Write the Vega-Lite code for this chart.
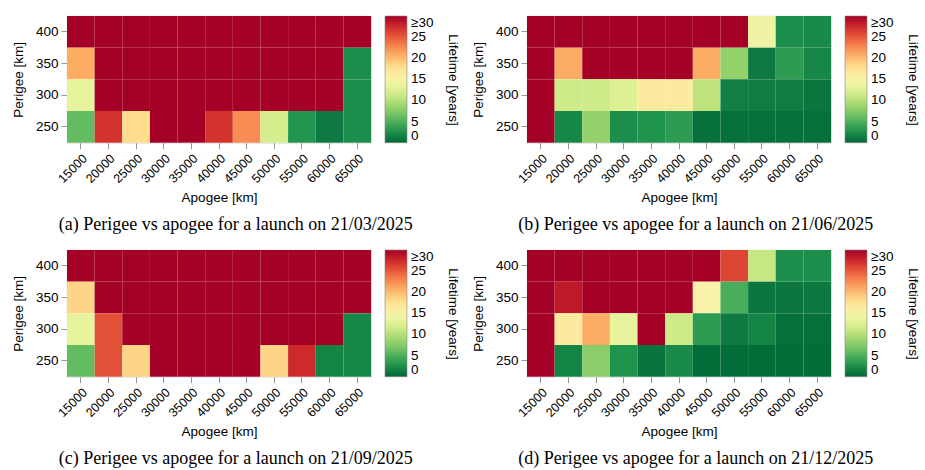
{
  "$schema": "https://vega.github.io/schema/vega-lite/v6.json",
  "padding": {"left": 11, "top": 15, "right": 0, "bottom": 0},
  "background": "white",
  "config": {
    "font": "Liberation Sans",
    "view": {"stroke": "#c8c8c8", "strokeWidth": 0.8},
    "axis": {
      "labelFont": "Liberation Sans", "titleFont": "Liberation Sans",
      "labelFontSize": 13.5, "titleFontSize": 13.5, "labelColor": "#000", "titleColor": "#000",
      "titleFontWeight": "normal", "tickColor": "#999999", "tickSize": 6, "labelPadding": 3,
      "domain": false, "grid": true, "gridColor": "#ffffff", "gridOpacity": 0.28, "zindex": 1
    },
    "axisX": {"titlePadding": 5, "labelFontSize": 12.5},
    "axisY": {"titlePadding": 10},
    "legend": {
      "labelFont": "Liberation Sans", "titleFont": "Liberation Sans",
      "labelFontSize": 13.5, "titleFontSize": 13.5, "labelColor": "#000", "titleColor": "#000",
      "titleFontWeight": "normal", "labelBaseline": "middle"
    },
    "title": {"font": "Liberation Serif", "fontSize": 18, "fontWeight": "normal", "color": "#000"}
  },
  "datasets": {
    "life": [
      {"launch": "21/03/2025", "perigee": 400, "apogee": 15000, "lifetime": 30},
      {"launch": "21/03/2025", "perigee": 400, "apogee": 20000, "lifetime": 30},
      {"launch": "21/03/2025", "perigee": 400, "apogee": 25000, "lifetime": 30},
      {"launch": "21/03/2025", "perigee": 400, "apogee": 30000, "lifetime": 30},
      {"launch": "21/03/2025", "perigee": 400, "apogee": 35000, "lifetime": 30},
      {"launch": "21/03/2025", "perigee": 400, "apogee": 40000, "lifetime": 30},
      {"launch": "21/03/2025", "perigee": 400, "apogee": 45000, "lifetime": 30},
      {"launch": "21/03/2025", "perigee": 400, "apogee": 50000, "lifetime": 30},
      {"launch": "21/03/2025", "perigee": 400, "apogee": 55000, "lifetime": 30},
      {"launch": "21/03/2025", "perigee": 400, "apogee": 60000, "lifetime": 30},
      {"launch": "21/03/2025", "perigee": 400, "apogee": 65000, "lifetime": 30},
      {"launch": "21/03/2025", "perigee": 350, "apogee": 15000, "lifetime": 21},
      {"launch": "21/03/2025", "perigee": 350, "apogee": 20000, "lifetime": 30},
      {"launch": "21/03/2025", "perigee": 350, "apogee": 25000, "lifetime": 30},
      {"launch": "21/03/2025", "perigee": 350, "apogee": 30000, "lifetime": 30},
      {"launch": "21/03/2025", "perigee": 350, "apogee": 35000, "lifetime": 30},
      {"launch": "21/03/2025", "perigee": 350, "apogee": 40000, "lifetime": 30},
      {"launch": "21/03/2025", "perigee": 350, "apogee": 45000, "lifetime": 30},
      {"launch": "21/03/2025", "perigee": 350, "apogee": 50000, "lifetime": 30},
      {"launch": "21/03/2025", "perigee": 350, "apogee": 55000, "lifetime": 30},
      {"launch": "21/03/2025", "perigee": 350, "apogee": 60000, "lifetime": 30},
      {"launch": "21/03/2025", "perigee": 350, "apogee": 65000, "lifetime": 2.5},
      {"launch": "21/03/2025", "perigee": 300, "apogee": 15000, "lifetime": 13.5},
      {"launch": "21/03/2025", "perigee": 300, "apogee": 20000, "lifetime": 30},
      {"launch": "21/03/2025", "perigee": 300, "apogee": 25000, "lifetime": 30},
      {"launch": "21/03/2025", "perigee": 300, "apogee": 30000, "lifetime": 30},
      {"launch": "21/03/2025", "perigee": 300, "apogee": 35000, "lifetime": 30},
      {"launch": "21/03/2025", "perigee": 300, "apogee": 40000, "lifetime": 30},
      {"launch": "21/03/2025", "perigee": 300, "apogee": 45000, "lifetime": 30},
      {"launch": "21/03/2025", "perigee": 300, "apogee": 50000, "lifetime": 30},
      {"launch": "21/03/2025", "perigee": 300, "apogee": 55000, "lifetime": 30},
      {"launch": "21/03/2025", "perigee": 300, "apogee": 60000, "lifetime": 30},
      {"launch": "21/03/2025", "perigee": 300, "apogee": 65000, "lifetime": 2.5},
      {"launch": "21/03/2025", "perigee": 250, "apogee": 15000, "lifetime": 6},
      {"launch": "21/03/2025", "perigee": 250, "apogee": 20000, "lifetime": 27},
      {"launch": "21/03/2025", "perigee": 250, "apogee": 25000, "lifetime": 18},
      {"launch": "21/03/2025", "perigee": 250, "apogee": 30000, "lifetime": 30},
      {"launch": "21/03/2025", "perigee": 250, "apogee": 35000, "lifetime": 30},
      {"launch": "21/03/2025", "perigee": 250, "apogee": 40000, "lifetime": 27},
      {"launch": "21/03/2025", "perigee": 250, "apogee": 45000, "lifetime": 22.5},
      {"launch": "21/03/2025", "perigee": 250, "apogee": 50000, "lifetime": 12},
      {"launch": "21/03/2025", "perigee": 250, "apogee": 55000, "lifetime": 3},
      {"launch": "21/03/2025", "perigee": 250, "apogee": 60000, "lifetime": 1.2},
      {"launch": "21/03/2025", "perigee": 250, "apogee": 65000, "lifetime": 2.5},

      {"launch": "21/06/2025", "perigee": 400, "apogee": 15000, "lifetime": 30},
      {"launch": "21/06/2025", "perigee": 400, "apogee": 20000, "lifetime": 30},
      {"launch": "21/06/2025", "perigee": 400, "apogee": 25000, "lifetime": 30},
      {"launch": "21/06/2025", "perigee": 400, "apogee": 30000, "lifetime": 30},
      {"launch": "21/06/2025", "perigee": 400, "apogee": 35000, "lifetime": 30},
      {"launch": "21/06/2025", "perigee": 400, "apogee": 40000, "lifetime": 30},
      {"launch": "21/06/2025", "perigee": 400, "apogee": 45000, "lifetime": 30},
      {"launch": "21/06/2025", "perigee": 400, "apogee": 50000, "lifetime": 30},
      {"launch": "21/06/2025", "perigee": 400, "apogee": 55000, "lifetime": 14},
      {"launch": "21/06/2025", "perigee": 400, "apogee": 60000, "lifetime": 2.5},
      {"launch": "21/06/2025", "perigee": 400, "apogee": 65000, "lifetime": 2.2},
      {"launch": "21/06/2025", "perigee": 350, "apogee": 15000, "lifetime": 30},
      {"launch": "21/06/2025", "perigee": 350, "apogee": 20000, "lifetime": 21},
      {"launch": "21/06/2025", "perigee": 350, "apogee": 25000, "lifetime": 30},
      {"launch": "21/06/2025", "perigee": 350, "apogee": 30000, "lifetime": 30},
      {"launch": "21/06/2025", "perigee": 350, "apogee": 35000, "lifetime": 30},
      {"launch": "21/06/2025", "perigee": 350, "apogee": 40000, "lifetime": 30},
      {"launch": "21/06/2025", "perigee": 350, "apogee": 45000, "lifetime": 21},
      {"launch": "21/06/2025", "perigee": 350, "apogee": 50000, "lifetime": 8.3},
      {"launch": "21/06/2025", "perigee": 350, "apogee": 55000, "lifetime": 1.2},
      {"launch": "21/06/2025", "perigee": 350, "apogee": 60000, "lifetime": 3.5},
      {"launch": "21/06/2025", "perigee": 350, "apogee": 65000, "lifetime": 2},
      {"launch": "21/06/2025", "perigee": 300, "apogee": 15000, "lifetime": 30},
      {"launch": "21/06/2025", "perigee": 300, "apogee": 20000, "lifetime": 11.5},
      {"launch": "21/06/2025", "perigee": 300, "apogee": 25000, "lifetime": 11.5},
      {"launch": "21/06/2025", "perigee": 300, "apogee": 30000, "lifetime": 12.5},
      {"launch": "21/06/2025", "perigee": 300, "apogee": 35000, "lifetime": 16.5},
      {"launch": "21/06/2025", "perigee": 300, "apogee": 40000, "lifetime": 16.5},
      {"launch": "21/06/2025", "perigee": 300, "apogee": 45000, "lifetime": 10.5},
      {"launch": "21/06/2025", "perigee": 300, "apogee": 50000, "lifetime": 1.5},
      {"launch": "21/06/2025", "perigee": 300, "apogee": 55000, "lifetime": 1.3},
      {"launch": "21/06/2025", "perigee": 300, "apogee": 60000, "lifetime": 1.3},
      {"launch": "21/06/2025", "perigee": 300, "apogee": 65000, "lifetime": 0.9},
      {"launch": "21/06/2025", "perigee": 250, "apogee": 15000, "lifetime": 30},
      {"launch": "21/06/2025", "perigee": 250, "apogee": 20000, "lifetime": 2},
      {"launch": "21/06/2025", "perigee": 250, "apogee": 25000, "lifetime": 8.3},
      {"launch": "21/06/2025", "perigee": 250, "apogee": 30000, "lifetime": 2.5},
      {"launch": "21/06/2025", "perigee": 250, "apogee": 35000, "lifetime": 2.8},
      {"launch": "21/06/2025", "perigee": 250, "apogee": 40000, "lifetime": 3.5},
      {"launch": "21/06/2025", "perigee": 250, "apogee": 45000, "lifetime": 0.6},
      {"launch": "21/06/2025", "perigee": 250, "apogee": 50000, "lifetime": 0.5},
      {"launch": "21/06/2025", "perigee": 250, "apogee": 55000, "lifetime": 0.5},
      {"launch": "21/06/2025", "perigee": 250, "apogee": 60000, "lifetime": 0.6},
      {"launch": "21/06/2025", "perigee": 250, "apogee": 65000, "lifetime": 0.5},

      {"launch": "21/09/2025", "perigee": 400, "apogee": 15000, "lifetime": 30},
      {"launch": "21/09/2025", "perigee": 400, "apogee": 20000, "lifetime": 30},
      {"launch": "21/09/2025", "perigee": 400, "apogee": 25000, "lifetime": 30},
      {"launch": "21/09/2025", "perigee": 400, "apogee": 30000, "lifetime": 30},
      {"launch": "21/09/2025", "perigee": 400, "apogee": 35000, "lifetime": 30},
      {"launch": "21/09/2025", "perigee": 400, "apogee": 40000, "lifetime": 30},
      {"launch": "21/09/2025", "perigee": 400, "apogee": 45000, "lifetime": 30},
      {"launch": "21/09/2025", "perigee": 400, "apogee": 50000, "lifetime": 30},
      {"launch": "21/09/2025", "perigee": 400, "apogee": 55000, "lifetime": 30},
      {"launch": "21/09/2025", "perigee": 400, "apogee": 60000, "lifetime": 30},
      {"launch": "21/09/2025", "perigee": 400, "apogee": 65000, "lifetime": 30},
      {"launch": "21/09/2025", "perigee": 350, "apogee": 15000, "lifetime": 18.5},
      {"launch": "21/09/2025", "perigee": 350, "apogee": 20000, "lifetime": 30},
      {"launch": "21/09/2025", "perigee": 350, "apogee": 25000, "lifetime": 30},
      {"launch": "21/09/2025", "perigee": 350, "apogee": 30000, "lifetime": 30},
      {"launch": "21/09/2025", "perigee": 350, "apogee": 35000, "lifetime": 30},
      {"launch": "21/09/2025", "perigee": 350, "apogee": 40000, "lifetime": 30},
      {"launch": "21/09/2025", "perigee": 350, "apogee": 45000, "lifetime": 30},
      {"launch": "21/09/2025", "perigee": 350, "apogee": 50000, "lifetime": 30},
      {"launch": "21/09/2025", "perigee": 350, "apogee": 55000, "lifetime": 30},
      {"launch": "21/09/2025", "perigee": 350, "apogee": 60000, "lifetime": 30},
      {"launch": "21/09/2025", "perigee": 350, "apogee": 65000, "lifetime": 30},
      {"launch": "21/09/2025", "perigee": 300, "apogee": 15000, "lifetime": 13.5},
      {"launch": "21/09/2025", "perigee": 300, "apogee": 20000, "lifetime": 25.5},
      {"launch": "21/09/2025", "perigee": 300, "apogee": 25000, "lifetime": 30},
      {"launch": "21/09/2025", "perigee": 300, "apogee": 30000, "lifetime": 30},
      {"launch": "21/09/2025", "perigee": 300, "apogee": 35000, "lifetime": 30},
      {"launch": "21/09/2025", "perigee": 300, "apogee": 40000, "lifetime": 30},
      {"launch": "21/09/2025", "perigee": 300, "apogee": 45000, "lifetime": 30},
      {"launch": "21/09/2025", "perigee": 300, "apogee": 50000, "lifetime": 30},
      {"launch": "21/09/2025", "perigee": 300, "apogee": 55000, "lifetime": 30},
      {"launch": "21/09/2025", "perigee": 300, "apogee": 60000, "lifetime": 30},
      {"launch": "21/09/2025", "perigee": 300, "apogee": 65000, "lifetime": 2},
      {"launch": "21/09/2025", "perigee": 250, "apogee": 15000, "lifetime": 6},
      {"launch": "21/09/2025", "perigee": 250, "apogee": 20000, "lifetime": 25.5},
      {"launch": "21/09/2025", "perigee": 250, "apogee": 25000, "lifetime": 18.5},
      {"launch": "21/09/2025", "perigee": 250, "apogee": 30000, "lifetime": 30},
      {"launch": "21/09/2025", "perigee": 250, "apogee": 35000, "lifetime": 30},
      {"launch": "21/09/2025", "perigee": 250, "apogee": 40000, "lifetime": 30},
      {"launch": "21/09/2025", "perigee": 250, "apogee": 45000, "lifetime": 30},
      {"launch": "21/09/2025", "perigee": 250, "apogee": 50000, "lifetime": 18.5},
      {"launch": "21/09/2025", "perigee": 250, "apogee": 55000, "lifetime": 27.5},
      {"launch": "21/09/2025", "perigee": 250, "apogee": 60000, "lifetime": 1.8},
      {"launch": "21/09/2025", "perigee": 250, "apogee": 65000, "lifetime": 2},

      {"launch": "21/12/2025", "perigee": 400, "apogee": 15000, "lifetime": 30},
      {"launch": "21/12/2025", "perigee": 400, "apogee": 20000, "lifetime": 30},
      {"launch": "21/12/2025", "perigee": 400, "apogee": 25000, "lifetime": 30},
      {"launch": "21/12/2025", "perigee": 400, "apogee": 30000, "lifetime": 30},
      {"launch": "21/12/2025", "perigee": 400, "apogee": 35000, "lifetime": 30},
      {"launch": "21/12/2025", "perigee": 400, "apogee": 40000, "lifetime": 30},
      {"launch": "21/12/2025", "perigee": 400, "apogee": 45000, "lifetime": 30},
      {"launch": "21/12/2025", "perigee": 400, "apogee": 50000, "lifetime": 26},
      {"launch": "21/12/2025", "perigee": 400, "apogee": 55000, "lifetime": 11},
      {"launch": "21/12/2025", "perigee": 400, "apogee": 60000, "lifetime": 2.5},
      {"launch": "21/12/2025", "perigee": 400, "apogee": 65000, "lifetime": 2.5},
      {"launch": "21/12/2025", "perigee": 350, "apogee": 15000, "lifetime": 30},
      {"launch": "21/12/2025", "perigee": 350, "apogee": 20000, "lifetime": 28.5},
      {"launch": "21/12/2025", "perigee": 350, "apogee": 25000, "lifetime": 30},
      {"launch": "21/12/2025", "perigee": 350, "apogee": 30000, "lifetime": 30},
      {"launch": "21/12/2025", "perigee": 350, "apogee": 35000, "lifetime": 30},
      {"launch": "21/12/2025", "perigee": 350, "apogee": 40000, "lifetime": 30},
      {"launch": "21/12/2025", "perigee": 350, "apogee": 45000, "lifetime": 15.5},
      {"launch": "21/12/2025", "perigee": 350, "apogee": 50000, "lifetime": 4.8},
      {"launch": "21/12/2025", "perigee": 350, "apogee": 55000, "lifetime": 1},
      {"launch": "21/12/2025", "perigee": 350, "apogee": 60000, "lifetime": 1},
      {"launch": "21/12/2025", "perigee": 350, "apogee": 65000, "lifetime": 1.1},
      {"launch": "21/12/2025", "perigee": 300, "apogee": 15000, "lifetime": 30},
      {"launch": "21/12/2025", "perigee": 300, "apogee": 20000, "lifetime": 16.5},
      {"launch": "21/12/2025", "perigee": 300, "apogee": 25000, "lifetime": 21},
      {"launch": "21/12/2025", "perigee": 300, "apogee": 30000, "lifetime": 13.5},
      {"launch": "21/12/2025", "perigee": 300, "apogee": 35000, "lifetime": 30},
      {"launch": "21/12/2025", "perigee": 300, "apogee": 40000, "lifetime": 11.5},
      {"launch": "21/12/2025", "perigee": 300, "apogee": 45000, "lifetime": 3.5},
      {"launch": "21/12/2025", "perigee": 300, "apogee": 50000, "lifetime": 1.2},
      {"launch": "21/12/2025", "perigee": 300, "apogee": 55000, "lifetime": 1.8},
      {"launch": "21/12/2025", "perigee": 300, "apogee": 60000, "lifetime": 0.5},
      {"launch": "21/12/2025", "perigee": 300, "apogee": 65000, "lifetime": 0.5},
      {"launch": "21/12/2025", "perigee": 250, "apogee": 15000, "lifetime": 30},
      {"launch": "21/12/2025", "perigee": 250, "apogee": 20000, "lifetime": 1.8},
      {"launch": "21/12/2025", "perigee": 250, "apogee": 25000, "lifetime": 7.8},
      {"launch": "21/12/2025", "perigee": 250, "apogee": 30000, "lifetime": 2.8},
      {"launch": "21/12/2025", "perigee": 250, "apogee": 35000, "lifetime": 0.8},
      {"launch": "21/12/2025", "perigee": 250, "apogee": 40000, "lifetime": 2.2},
      {"launch": "21/12/2025", "perigee": 250, "apogee": 45000, "lifetime": 0.3},
      {"launch": "21/12/2025", "perigee": 250, "apogee": 50000, "lifetime": 0.3},
      {"launch": "21/12/2025", "perigee": 250, "apogee": 55000, "lifetime": 0.3},
      {"launch": "21/12/2025", "perigee": 250, "apogee": 60000, "lifetime": 0.3},
      {"launch": "21/12/2025", "perigee": 250, "apogee": 65000, "lifetime": 0.3}
    ]
  },
  "data": {"name": "life"},
  "columns": 2,
  "spacing": {"column": 10, "row": 14},
  "resolve": {
    "scale": {"x": "independent", "y": "independent", "color": "independent"},
    "axis": {"x": "independent", "y": "independent"},
    "legend": {"color": "independent"}
  },
  "concat": [
    {
      "width": 304, "height": 126.7,
      "transform": [{"filter": "datum.launch == '21/03/2025'"}],
      "title": {"text": "(a) Perigee vs apogee for a launch on 21/03/2025", "orient": "bottom", "frame": "bounds", "anchor": "middle", "offset": 12},
      "mark": "rect",
      "encoding": {
        "x": {"field": "apogee", "type": "ordinal", "sort": "ascending", "scale": {"paddingInner": 0, "paddingOuter": 0}, "axis": {"title": "Apogee [km]", "labelAngle": -45, "bandPosition": 0.5}},
        "y": {"field": "perigee", "type": "ordinal", "sort": "descending", "scale": {"paddingInner": 0, "paddingOuter": 0}, "axis": {"title": "Perigee [km]", "bandPosition": 0.5}},
        "color": {"field": "lifetime", "type": "quantitative", "scale": {"scheme": "redyellowgreen", "reverse": true, "domain": [0, 30], "clamp": true},
          "legend": {"title": "Lifetime [years]", "type": "gradient", "values": [0, 5, 10, 15, 20, 25, 30], "labelExpr": "datum.value >= 30 ? '≥30' : datum.label", "gradientLength": 126.7, "gradientThickness": 22, "gradientStrokeColor": "#888888", "gradientStrokeWidth": 0.6, "titleOrient": "right", "titleAngle": 270, "titleAnchor": "middle", "titleBaseline": "bottom", "titlePadding": 13, "offset": 14, "labelOffset": 4}}
      }
    },
    {
      "width": 304, "height": 126.7,
      "transform": [{"filter": "datum.launch == '21/06/2025'"}],
      "title": {"text": "(b) Perigee vs apogee for a launch on 21/06/2025", "orient": "bottom", "frame": "bounds", "anchor": "middle", "offset": 12},
      "mark": "rect",
      "encoding": {
        "x": {"field": "apogee", "type": "ordinal", "sort": "ascending", "scale": {"paddingInner": 0, "paddingOuter": 0}, "axis": {"title": "Apogee [km]", "labelAngle": -45, "bandPosition": 0.5}},
        "y": {"field": "perigee", "type": "ordinal", "sort": "descending", "scale": {"paddingInner": 0, "paddingOuter": 0}, "axis": {"title": "Perigee [km]", "bandPosition": 0.5}},
        "color": {"field": "lifetime", "type": "quantitative", "scale": {"scheme": "redyellowgreen", "reverse": true, "domain": [0, 30], "clamp": true},
          "legend": {"title": "Lifetime [years]", "type": "gradient", "values": [0, 5, 10, 15, 20, 25, 30], "labelExpr": "datum.value >= 30 ? '≥30' : datum.label", "gradientLength": 126.7, "gradientThickness": 22, "gradientStrokeColor": "#888888", "gradientStrokeWidth": 0.6, "titleOrient": "right", "titleAngle": 270, "titleAnchor": "middle", "titleBaseline": "bottom", "titlePadding": 13, "offset": 14, "labelOffset": 4}}
      }
    },
    {
      "width": 304, "height": 126.7,
      "transform": [{"filter": "datum.launch == '21/09/2025'"}],
      "title": {"text": "(c) Perigee vs apogee for a launch on 21/09/2025", "orient": "bottom", "frame": "bounds", "anchor": "middle", "offset": 12},
      "mark": "rect",
      "encoding": {
        "x": {"field": "apogee", "type": "ordinal", "sort": "ascending", "scale": {"paddingInner": 0, "paddingOuter": 0}, "axis": {"title": "Apogee [km]", "labelAngle": -45, "bandPosition": 0.5}},
        "y": {"field": "perigee", "type": "ordinal", "sort": "descending", "scale": {"paddingInner": 0, "paddingOuter": 0}, "axis": {"title": "Perigee [km]", "bandPosition": 0.5}},
        "color": {"field": "lifetime", "type": "quantitative", "scale": {"scheme": "redyellowgreen", "reverse": true, "domain": [0, 30], "clamp": true},
          "legend": {"title": "Lifetime [years]", "type": "gradient", "values": [0, 5, 10, 15, 20, 25, 30], "labelExpr": "datum.value >= 30 ? '≥30' : datum.label", "gradientLength": 126.7, "gradientThickness": 22, "gradientStrokeColor": "#888888", "gradientStrokeWidth": 0.6, "titleOrient": "right", "titleAngle": 270, "titleAnchor": "middle", "titleBaseline": "bottom", "titlePadding": 13, "offset": 14, "labelOffset": 4}}
      }
    },
    {
      "width": 304, "height": 126.7,
      "transform": [{"filter": "datum.launch == '21/12/2025'"}],
      "title": {"text": "(d) Perigee vs apogee for a launch on 21/12/2025", "orient": "bottom", "frame": "bounds", "anchor": "middle", "offset": 12},
      "mark": "rect",
      "encoding": {
        "x": {"field": "apogee", "type": "ordinal", "sort": "ascending", "scale": {"paddingInner": 0, "paddingOuter": 0}, "axis": {"title": "Apogee [km]", "labelAngle": -45, "bandPosition": 0.5}},
        "y": {"field": "perigee", "type": "ordinal", "sort": "descending", "scale": {"paddingInner": 0, "paddingOuter": 0}, "axis": {"title": "Perigee [km]", "bandPosition": 0.5}},
        "color": {"field": "lifetime", "type": "quantitative", "scale": {"scheme": "redyellowgreen", "reverse": true, "domain": [0, 30], "clamp": true},
          "legend": {"title": "Lifetime [years]", "type": "gradient", "values": [0, 5, 10, 15, 20, 25, 30], "labelExpr": "datum.value >= 30 ? '≥30' : datum.label", "gradientLength": 126.7, "gradientThickness": 22, "gradientStrokeColor": "#888888", "gradientStrokeWidth": 0.6, "titleOrient": "right", "titleAngle": 270, "titleAnchor": "middle", "titleBaseline": "bottom", "titlePadding": 13, "offset": 14, "labelOffset": 4}}
      }
    }
  ]
}
